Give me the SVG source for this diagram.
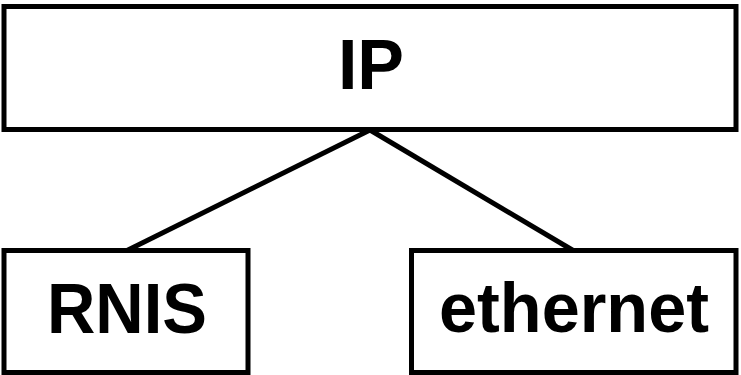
<svg xmlns="http://www.w3.org/2000/svg" width="741" height="375" viewBox="0 0 741 375">
<style>
.box{fill:#fff;stroke:#000;stroke-width:5}
.lbl{font-family:"Liberation Sans",Arial,sans-serif;font-weight:bold;font-size:70px;text-anchor:middle;fill:#000}
.conn{stroke:#000;stroke-width:5;fill:none}
</style>
<rect width="741" height="375" fill="#fff"/>
<g id="connectors">
<line class="conn" x1="370" y1="130" x2="126" y2="251"/>
<line class="conn" x1="370" y1="130" x2="574" y2="251"/>
</g>
<g id="ip">
<rect class="box" x="4" y="6.5" width="732" height="123"/>
<text class="lbl" x="371" y="89">IP</text>
</g>
<g id="rnis">
<rect class="box" x="4" y="250.5" width="244" height="122"/>
<text class="lbl" x="127" y="333" textLength="160" lengthAdjust="spacingAndGlyphs">RNIS</text>
</g>
<g id="ethernet">
<rect class="box" x="411.5" y="250.5" width="324.5" height="122"/>
<text class="lbl" x="574" y="332" textLength="270" lengthAdjust="spacingAndGlyphs">ethernet</text>
</g>
</svg>
